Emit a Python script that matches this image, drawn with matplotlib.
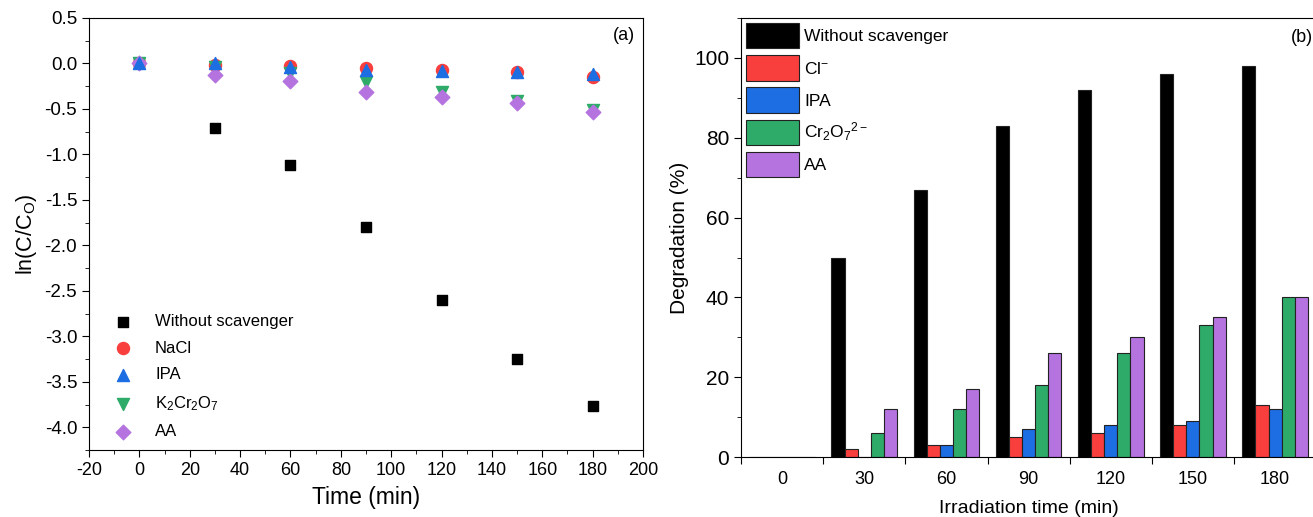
import numpy as np
import matplotlib.pyplot as plt
from matplotlib.ticker import MultipleLocator, FixedLocator, NullFormatter

plt.rcParams['font.family'] = ['Liberation Sans', 'DejaVu Sans']
plt.rcParams['mathtext.default'] = 'regular'
plt.rcParams['axes.unicode_minus'] = False

# panel (a): ln(C/Co) vs time
time_min = [0, 30, 60, 90, 120, 150, 180]
ln_without = [0, -0.71, -1.12, -1.80, -2.60, -3.25, -3.77]
ln_nacl = [0, -0.02, -0.03, -0.05, -0.07, -0.09, -0.15]
ln_ipa = [0, 0.0, -0.04, -0.07, -0.08, -0.09, -0.12]
ln_k2cr2o7 = [0, -0.04, -0.10, -0.20, -0.31, -0.41, -0.51]
ln_aa = [0, -0.13, -0.19, -0.31, -0.37, -0.44, -0.53]

# panel (b): degradation %
time_labels = ['0', '30', '60', '90', '120', '150', '180']
deg_without = [0, 50, 67, 83, 92, 96, 98]
deg_cl = [0, 2, 3, 5, 6, 8, 13]
deg_ipa = [0, 0, 3, 7, 8, 9, 12]
deg_cr2o7 = [0, 6, 12, 18, 26, 33, 40]
deg_aa = [0, 12, 17, 26, 30, 35, 40]

black = '#000000'
red = '#f93e3e'
blue = '#1d6de3'
green = '#2eab69'
purple = '#b573e0'

fig = plt.figure(figsize=(13.13, 5.17), dpi=100)

# ---- (a)
ax1 = fig.add_axes([0.0678, 0.1296, 0.4219, 0.8356])
ax1.scatter(time_min, ln_without, marker='s', s=60, color=black, label='Without scavenger', zorder=3)
ax1.scatter(time_min, ln_nacl, marker='o', s=75, color=red, label='NaCl', zorder=3)
ax1.scatter(time_min, ln_ipa, marker='^', s=75, color=blue, label='IPA', zorder=4)
ax1.scatter(time_min, ln_k2cr2o7, marker='v', s=75, color=green, label=r'K$_2$Cr$_2$O$_7$', zorder=3)
ax1.scatter(time_min, ln_aa, marker='D', s=55, color=purple, label='AA', zorder=3)

ax1.set_xlim(-20, 200)
ax1.set_ylim(-4.25, 0.5)
ax1.xaxis.set_major_locator(MultipleLocator(20))
ax1.xaxis.set_minor_locator(MultipleLocator(10))
ax1.yaxis.set_major_locator(MultipleLocator(0.5))
ax1.yaxis.set_minor_locator(MultipleLocator(0.25))
ax1.yaxis.set_major_formatter(plt.FuncFormatter(lambda v, p: f'{v:.1f}'))
ax1.tick_params(which='major', direction='out', length=5, labelsize=13.5)
ax1.tick_params(axis='x', which='major', labelsize=13)
ax1.tick_params(which='minor', direction='out', length=3)
ax1.set_xlabel('Time (min)', fontsize=16.5, labelpad=5)
ax1.set_ylabel(r'ln(C/C$_O$)', fontsize=15.5)
ax1.text(0.985, 0.978, '(a)', transform=ax1.transAxes, ha='right', va='top', fontsize=13)
ax1.legend(loc='lower left', frameon=False, fontsize=12, handletextpad=0.9,
           labelspacing=0.7, bbox_to_anchor=(0.005, -0.01), scatterpoints=1)

# ---- (b)
ax2 = fig.add_axes([0.5644, 0.116, 0.438, 0.849])
x = np.arange(len(time_labels))
w = 0.16
series = [(deg_without, black, 'Without scavenger'),
          (deg_cl, red, r'Cl$^{-}$'),
          (deg_ipa, blue, 'IPA'),
          (deg_cr2o7, green, r'Cr$_2$O$_7$$^{2-}$'),
          (deg_aa, purple, 'AA')]
for i, (vals, col, lab) in enumerate(series):
    ax2.bar(x + (i - 2) * w, vals, width=w, color=col, edgecolor='#222222',
            linewidth=0.8, label=lab)

ax2.set_xlim(-0.5, 6.5)
ax2.set_ylim(0, 110)
ax2.xaxis.set_major_locator(FixedLocator(np.arange(-0.5, 7, 1)))
ax2.xaxis.set_major_formatter(NullFormatter())
ax2.xaxis.set_minor_locator(FixedLocator(x))
ax2.set_xticklabels(time_labels, minor=True)
ax2.tick_params(axis='x', which='minor', length=0, labelsize=13, pad=10)
ax2.tick_params(axis='x', which='major', direction='out', length=5)
ax2.yaxis.set_major_locator(MultipleLocator(20))
ax2.yaxis.set_minor_locator(MultipleLocator(10))
ax2.tick_params(axis='y', which='major', direction='out', length=5, labelsize=15)
ax2.tick_params(axis='y', which='minor', direction='out', length=3)
ax2.set_xlabel('Irradiation time (min)', fontsize=14, labelpad=9)
ax2.set_ylabel('Degradation (%)', fontsize=15)
ax2.text(0.995, 0.975, '(b)', transform=ax2.transAxes, ha='right', va='top', fontsize=13)
ax2.legend(loc='upper left', frameon=False, fontsize=12.5, handlelength=3.05,
           handleheight=1.85, labelspacing=0.4, handletextpad=0.3,
           borderaxespad=0.15, borderpad=0.15)

fig.savefig('out.png', dpi=100)
